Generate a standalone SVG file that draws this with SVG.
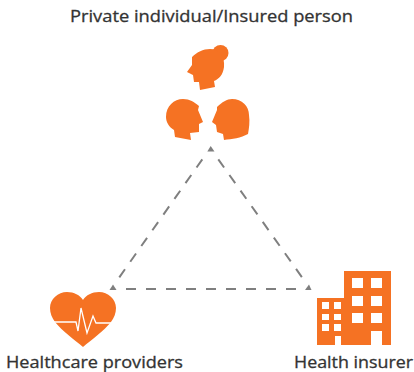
<svg xmlns="http://www.w3.org/2000/svg" width="414" height="372" viewBox="0 0 414 372">
<style>
.t{font-family:"Open Sans","Noto Sans",sans-serif;font-size:16.5px;font-weight:500;fill:#333;stroke:#333;stroke-width:.3}
.o{fill:#f57223}
.w{fill:#fff}
.c{fill:none;stroke:#7f7f7f;stroke-width:2;stroke-dasharray:10 9.2}
.h{fill:none;stroke:#7f7f7f;stroke-width:2;stroke-dasharray:10 10}
.a{fill:#7f7f7f}
</style>
<rect width="414" height="372" fill="#fff"/>
<g id="connectors">
<path class="c" d="M218.300 159.300L302 277.300"/>
<path class="c" d="M202.300 159.300L119.300 277.300"/>
<path class="h" d="M126 289L296 289"/>
<path class="a" d="M210.700 146L214.500 151.500L207.300 151.500Z"/>
<path class="a" d="M109.500 290L116.500 290L113 284.500Z"/>
<path class="a" d="M311.500 290L305 290L309 284.500Z"/>
</g>
<g id="private-individual">
<circle class="o" cx="220.500" cy="53" r="8"/>
<path class="o" d="M187 72L192 65L192 57C197 52 203 49 210 49C220 49 225 57 224 67C223 75 219 79 214 81L215 87L200 90L199 82L194 82L193 75Z"/>
<path class="o" d="M175 137L174 130C169 127 166 122 166 117C166 106 174 99 183 99C190 99 194 102 199 106L198 110L203 122L199 124L199 132L190 133L191 140Z"/>
<path class="o" d="M224 140L223 134L217 132L216 125L212 122L217 110L217 107C222 102 227 99 232 99C242 99 249 106 249 115C250 122 249 128 248 134C241 138 232 139 224 140Z"/>
<text class="t" x="70" y="22" textLength="283" lengthAdjust="spacingAndGlyphs">Private individual/Insured person</text>
</g>
<g id="healthcare-providers">
<path class="o" d="M83 347C75 340 62 331 55 322C52 318 50 313 50 308C50 299 58 292 67 292C74 292 80 295 83 300C86 295 92 292 99 292C108 292 116 299 116 308C116 313 114 318 111 322C104 331 91 340 83 347Z"/>
<path fill="none" stroke="#fff" stroke-width="1.300" d="M53 322L76 322L78 331L81 308L87 333L93 316L96 323L112 323"/>
<text class="t" x="6" y="368" textLength="177" lengthAdjust="spacingAndGlyphs">Healthcare providers</text>
</g>
<g id="health-insurer">
<path class="o" d="M344 271L391 271L391 345L382 345L382 331L371 331L371 345L341 345L341 336L335 336L335 345L317 345L317 298L344 298Z"/>
<g class="w">
<rect x="352" y="278" width="11" height="10"/><rect x="371" y="278" width="11" height="10"/>
<rect x="352" y="296" width="11" height="10"/><rect x="371" y="296" width="11" height="10"/>
<rect x="352" y="313" width="11" height="10"/><rect x="371" y="313" width="11" height="10"/>
<rect x="322" y="302" width="7" height="7"/><rect x="334" y="302" width="7" height="7"/>
<rect x="322" y="314" width="7" height="6"/><rect x="334" y="314" width="7" height="6"/>
<rect x="322" y="324" width="7" height="7"/><rect x="334" y="324" width="7" height="7"/>
</g>
<text class="t" x="294" y="368" textLength="119" lengthAdjust="spacingAndGlyphs">Health insurer</text>
</g>
</svg>
